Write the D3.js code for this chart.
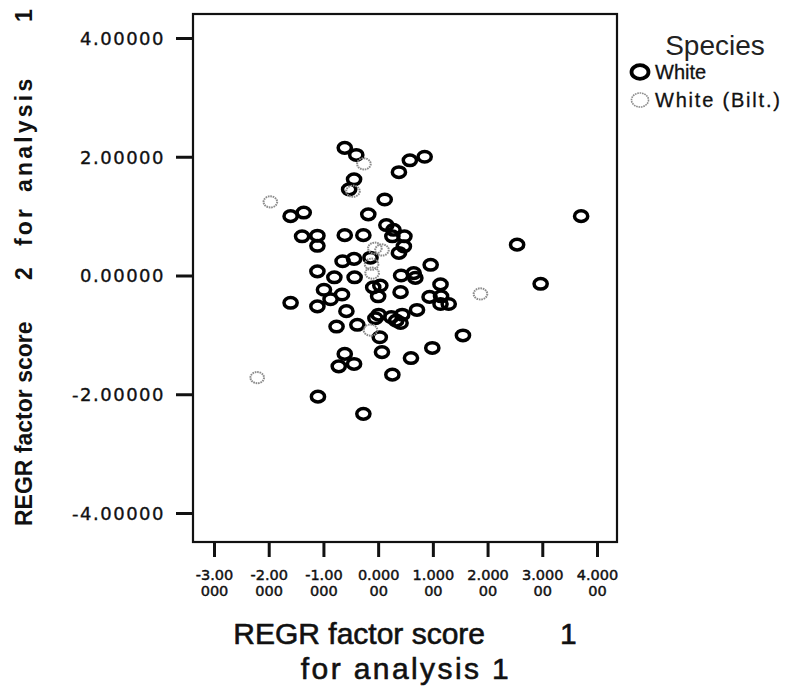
<!DOCTYPE html>
<html>
<head>
<meta charset="utf-8">
<script src="https://cdn.jsdelivr.net/npm/d3@7"></script>
<style>
  html, body { margin: 0; padding: 0; background: #fff; }
  svg { display: block; }
  text { white-space: pre; }
</style>
</head>
<body>
<svg id="chart" width="793" height="696"></svg>
<script>
// ---- data ----
const whiteX = [-0.61,-0.40,0.58,0.85,0.38,-0.44,-0.53,0.12,-1.36,-1.60,-0.18,3.71,0.15,-1.39,-1.11,-1.11,-0.61,-0.27,0.28,0.26,0.48,0.47,0.38,2.54,-0.65,-0.44,-0.14,0.96,-1.11,-0.80,-0.43,0.42,0.65,0.68,2.97,0.04,-0.09,1.14,-0.99,-0.66,-0.87,0.00,0.41,-1.60,-1.11,0.94,1.15,1.14,1.29,-0.58,0.01,-0.05,0.24,0.44,0.41,0.33,0.71,-0.76,-0.38,0.03,1.55,0.07,0.99,0.60,-0.61,-0.72,-0.44,0.26,-1.10,-0.27];
const whiteY = [2.15,2.03,1.94,2.00,1.74,1.62,1.45,1.28,1.06,1.00,1.03,1.00,0.85,0.66,0.67,0.50,0.68,0.68,0.77,0.66,0.66,0.49,0.38,0.52,0.24,0.28,0.30,0.18,0.07,-0.03,-0.03,0.00,0.04,-0.04,-0.14,-0.17,-0.20,-0.15,-0.24,-0.32,-0.40,-0.35,-0.28,-0.46,-0.52,-0.36,-0.35,-0.48,-0.48,-0.60,-0.66,-0.72,-0.70,-0.66,-0.80,-0.76,-0.58,-0.86,-0.83,-1.04,-1.01,-1.29,-1.22,-1.39,-1.32,-1.53,-1.49,-1.67,-2.04,-2.33];
const biltX = [-0.26,-0.46,-1.97,-0.06,0.07,-0.12,-0.11,1.87,-0.14,-2.21];
const biltY = [1.88,1.42,1.24,0.46,0.43,0.19,0.04,-0.31,-0.92,-1.72];

const xTickValues = [-3,-2,-1,0,1,2,3,4];
const xTickLines = [["-3.00","000"],["-2.00","000"],["-1.00","000"],["0.000","00"],["1.000","00"],["2.000","00"],["3.000","00"],["4.000","00"]];
const yTickValues = [4,2,0,-2,-4];
const yTickLabels = ["4.00000","2.00000","0.00000","-2.00000","-4.00000"];

const seriesNames = ["White","White (Bilt.)"];
const xTitleLines = ["REGR factor score         1","for analysis 1"];
const yTitleWords = ["REGR factor score","2","for","analysis","1"];
const legendTitle = "Species";

// ---- layout ----
const svg = d3.select("#chart");
const frame = {left:193, right:617, top:14, bottom:542};
const x = d3.scaleLinear().domain([-3,4]).range([214,597]);
const y = d3.scaleLinear().domain([-4,4]).range([513,38]);
const ink = "#111";

// frame
svg.append("rect")
  .attr("x", frame.left).attr("y", frame.top)
  .attr("width", frame.right-frame.left).attr("height", frame.bottom-frame.top)
  .attr("fill","none").attr("stroke", ink).attr("stroke-width", 2.2);

// x axis
const xAxis = d3.axisBottom(x).tickValues(xTickValues).tickSize(15).tickFormat("");
const gx = svg.append("g").attr("transform", `translate(0,${frame.bottom})`).call(xAxis);
gx.select(".domain").remove();
gx.selectAll(".tick line").attr("stroke", ink).attr("stroke-width", 3);
gx.selectAll(".tick").each(function(d,i){
  const t = d3.select(this).append("text")
    .attr("fill", ink).attr("stroke", ink).attr("stroke-width", 0.45)
    .attr("text-anchor","middle")
    .style("font-family","'DejaVu Sans', sans-serif").style("font-size","14.5px");
  t.append("tspan").attr("x",0).attr("y",38).text(xTickLines[i][0]);
  t.append("tspan").attr("x",0).attr("y",54).text(xTickLines[i][1]);
});

// y axis
const yAxis = d3.axisLeft(y).tickValues(yTickValues).tickSize(17).tickFormat((d,i)=>yTickLabels[i]);
const gy = svg.append("g").attr("transform", `translate(${frame.left},0)`).call(yAxis);
gy.select(".domain").remove();
gy.selectAll(".tick line").attr("stroke", ink).attr("stroke-width", 3);
gy.selectAll(".tick text")
  .attr("x", -28).attr("dy","0.36em")
  .attr("fill", ink).attr("stroke", ink).attr("stroke-width", 0.35)
  .style("font-family","'DejaVu Sans', sans-serif").style("font-size","18px")
  .style("letter-spacing","1.5px");

// points
const whiteData = whiteX.map((v,i)=>({x:v, y:whiteY[i]}));
const biltData = biltX.map((v,i)=>({x:v, y:biltY[i]}));

svg.append("g").selectAll("ellipse").data(whiteData).join("ellipse")
  .attr("cx", d=>x(d.x)).attr("cy", d=>y(d.y))
  .attr("rx", 6.6).attr("ry", 5.3)
  .attr("fill","none").attr("stroke","#000").attr("stroke-width",3.5);

svg.append("g").selectAll("ellipse").data(biltData).join("ellipse")
  .attr("cx", d=>x(d.x)).attr("cy", d=>y(d.y))
  .attr("rx", 6.8).attr("ry", 5.6)
  .attr("fill","none").attr("stroke","#8c8c8c").attr("stroke-width",2)
  .attr("stroke-dasharray","1.6,0.8");

// x title
const titleFont = "'Liberation Sans', Arial, sans-serif";
svg.append("text")
  .attr("x", 405).attr("y", 644).attr("text-anchor","middle")
  .attr("fill", ink).attr("stroke", ink).attr("stroke-width", 0.6)
  .style("font-family", titleFont).style("font-size","30px")
  .text(xTitleLines[0]);
svg.append("text")
  .attr("x", 406).attr("y", 679).attr("text-anchor","middle")
  .attr("fill", ink).attr("stroke", ink).attr("stroke-width", 0.6)
  .style("font-family", titleFont).style("font-size","30px")
  .style("letter-spacing","2.4px")
  .text(xTitleLines[1]);

// y title (rotated; positions along the text run, measured from bottom y=526)
const yTitleStart = [0, 246, 280, 334, 504];
const yt = svg.append("text")
  .attr("transform","translate(32,526) rotate(-90)")
  .attr("text-anchor","start").attr("fill", ink)
  .style("font-family", titleFont).style("font-size","23px")
  .style("font-weight","bold");
yt.selectAll("tspan").data(yTitleWords).join("tspan")
  .attr("x", (d,i)=>yTitleStart[i]).attr("y", 0)
  .style("letter-spacing", (d,i)=> i>=2 ? "3.2px" : "0px")
  .text(d=>d);

// legend
svg.append("text")
  .attr("x", 715).attr("y", 55).attr("text-anchor","middle")
  .attr("fill", "#222")
  .style("font-family", titleFont).style("font-size","28px")
  .text(legendTitle);

const legendRows = svg.append("g").selectAll("g").data(seriesNames).join("g")
  .attr("transform",(d,i)=>`translate(0,${72 + i*28})`);
legendRows.append("ellipse")
  .attr("cx", 640).attr("cy", 0)
  .attr("rx",(d,i)=> i===0 ? 8.5 : 8.5).attr("ry",(d,i)=> i===0 ? 6.8 : 7)
  .attr("fill","none")
  .attr("stroke",(d,i)=> i===0 ? "#000" : "#8c8c8c")
  .attr("stroke-width",(d,i)=> i===0 ? 3.8 : 1.6)
  .attr("stroke-dasharray",(d,i)=> i===0 ? null : "1.6,0.8");
legendRows.append("text")
  .attr("x", 655).attr("y", 0).attr("dy","0.36em")
  .attr("fill", ink).attr("stroke", ink).attr("stroke-width", 0.3)
  .style("font-family", titleFont).style("font-size","20px")
  .style("letter-spacing",(d,i)=> i===1 ? "1.8px" : "0px")
  .text(d=>d);
</script>
</body>
</html>
